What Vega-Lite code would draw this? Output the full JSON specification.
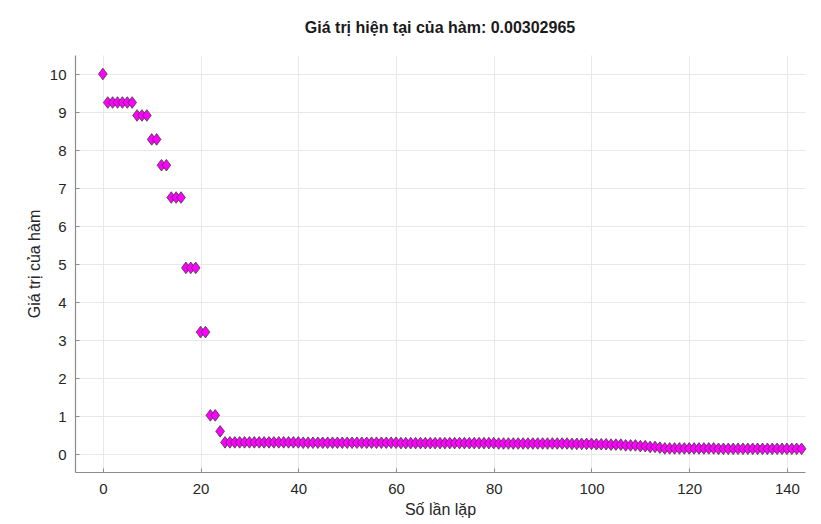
{
  "$schema": "https://vega.github.io/schema/vega-lite/v6.json",
  "width": 730,
  "height": 417,
  "autosize": {"type": "none"},
  "padding": {"left": 75, "top": 55, "right": 16, "bottom": 52},
  "background": "white",
  "title": {"text": "Giá trị hiện tại của hàm: 0.00302965", "font": "Liberation Sans", "fontSize": 16, "fontWeight": "bold", "color": "#1a1a1a", "anchor": "middle", "offset": 19},
  "data": {"values": [
    {"i":0,"v":10},
    {"i":1,"v":9.25},{"i":2,"v":9.25},{"i":3,"v":9.25},{"i":4,"v":9.25},{"i":5,"v":9.25},{"i":6,"v":9.25},
    {"i":7,"v":8.91},{"i":8,"v":8.91},{"i":9,"v":8.91},
    {"i":10,"v":8.28},{"i":11,"v":8.28},
    {"i":12,"v":7.6},{"i":13,"v":7.6},
    {"i":14,"v":6.75},{"i":15,"v":6.75},{"i":16,"v":6.75},
    {"i":17,"v":4.9},{"i":18,"v":4.9},{"i":19,"v":4.9},
    {"i":20,"v":3.21},{"i":21,"v":3.21},
    {"i":22,"v":1.02},{"i":23,"v":1.02},
    {"i":24,"v":0.6},
    {"i":25,"v":0.31},{"i":26,"v":0.31},{"i":27,"v":0.31},{"i":28,"v":0.31},{"i":29,"v":0.31},{"i":30,"v":0.31},{"i":31,"v":0.31},{"i":32,"v":0.31},{"i":33,"v":0.31},{"i":34,"v":0.31},{"i":35,"v":0.31},{"i":36,"v":0.31},{"i":37,"v":0.31},{"i":38,"v":0.31},{"i":39,"v":0.31},{"i":40,"v":0.31},
    {"i":41,"v":0.3},{"i":42,"v":0.3},{"i":43,"v":0.3},{"i":44,"v":0.3},{"i":45,"v":0.3},{"i":46,"v":0.3},{"i":47,"v":0.3},{"i":48,"v":0.3},{"i":49,"v":0.3},{"i":50,"v":0.3},{"i":51,"v":0.3},{"i":52,"v":0.3},{"i":53,"v":0.3},{"i":54,"v":0.3},{"i":55,"v":0.3},{"i":56,"v":0.3},{"i":57,"v":0.3},{"i":58,"v":0.3},{"i":59,"v":0.3},{"i":60,"v":0.3},
    {"i":61,"v":0.29},{"i":62,"v":0.29},{"i":63,"v":0.29},{"i":64,"v":0.29},{"i":65,"v":0.29},{"i":66,"v":0.29},{"i":67,"v":0.29},{"i":68,"v":0.29},{"i":69,"v":0.29},{"i":70,"v":0.29},{"i":71,"v":0.29},{"i":72,"v":0.29},{"i":73,"v":0.29},{"i":74,"v":0.29},{"i":75,"v":0.29},{"i":76,"v":0.29},{"i":77,"v":0.29},{"i":78,"v":0.29},{"i":79,"v":0.29},{"i":80,"v":0.29},
    {"i":81,"v":0.28},{"i":82,"v":0.28},{"i":83,"v":0.28},{"i":84,"v":0.28},{"i":85,"v":0.28},{"i":86,"v":0.28},{"i":87,"v":0.28},{"i":88,"v":0.28},{"i":89,"v":0.28},{"i":90,"v":0.28},{"i":91,"v":0.28},{"i":92,"v":0.28},{"i":93,"v":0.28},{"i":94,"v":0.28},{"i":95,"v":0.28},
    {"i":96,"v":0.27},{"i":97,"v":0.27},{"i":98,"v":0.27},{"i":99,"v":0.27},{"i":100,"v":0.27},
    {"i":101,"v":0.26},{"i":102,"v":0.26},{"i":103,"v":0.26},
    {"i":104,"v":0.25},{"i":105,"v":0.25},{"i":106,"v":0.25},
    {"i":107,"v":0.23},{"i":108,"v":0.23},{"i":109,"v":0.23},
    {"i":110,"v":0.21},{"i":111,"v":0.21},
    {"i":112,"v":0.19},{"i":113,"v":0.19},
    {"i":114,"v":0.17},
    {"i":115,"v":0.15},{"i":116,"v":0.15},{"i":117,"v":0.15},{"i":118,"v":0.15},{"i":119,"v":0.15},{"i":120,"v":0.15},{"i":121,"v":0.15},{"i":122,"v":0.15},{"i":123,"v":0.15},{"i":124,"v":0.15},{"i":125,"v":0.15},
    {"i":126,"v":0.14},{"i":127,"v":0.14},{"i":128,"v":0.14},{"i":129,"v":0.14},{"i":130,"v":0.14},{"i":131,"v":0.14},{"i":132,"v":0.14},{"i":133,"v":0.14},{"i":134,"v":0.14},{"i":135,"v":0.14},{"i":136,"v":0.14},{"i":137,"v":0.14},{"i":138,"v":0.14},{"i":139,"v":0.14},{"i":140,"v":0.14},{"i":141,"v":0.14},{"i":142,"v":0.14},{"i":143,"v":0.14}
  ]},
  "mark": {"type": "point", "shape": "M0,-1L0.75,0L0,1L-0.75,0Z", "filled": true, "fill": "#ff00ff", "stroke": "#3a3a3a", "strokeWidth": 0.8, "size": 135, "opacity": 1},
  "encoding": {
    "x": {"field": "i", "type": "quantitative", "scale": {"domain": [-5.7, 143.7], "nice": false, "zero": false},
      "axis": {"title": "Số lần lặp", "values": [0, 20, 40, 60, 80, 100, 120, 140], "format": "d", "labelPadding": 13, "titlePadding": 5}},
    "y": {"field": "v", "type": "quantitative", "scale": {"domain": [-0.47, 10.5], "nice": false, "zero": false},
      "axis": {"title": "Giá trị của hàm", "values": [0, 1, 2, 3, 4, 5, 6, 7, 8, 9, 10], "format": "d", "labelPadding": 13, "titlePadding": 7}}
  },
  "config": {
    "view": {"stroke": null},
    "axis": {
      "labelFont": "Liberation Sans", "labelFontSize": 15, "labelColor": "#262626",
      "titleFont": "Liberation Sans", "titleFontSize": 16, "titleFontWeight": "normal", "titleColor": "#262626",
      "domainColor": "#8c8c8c", "domainWidth": 1.2, "tickColor": "#8c8c8c", "tickSize": -4, "tickWidth": 1,
      "grid": true, "gridColor": "#e8e8e8", "gridWidth": 1
    }
  }
}
